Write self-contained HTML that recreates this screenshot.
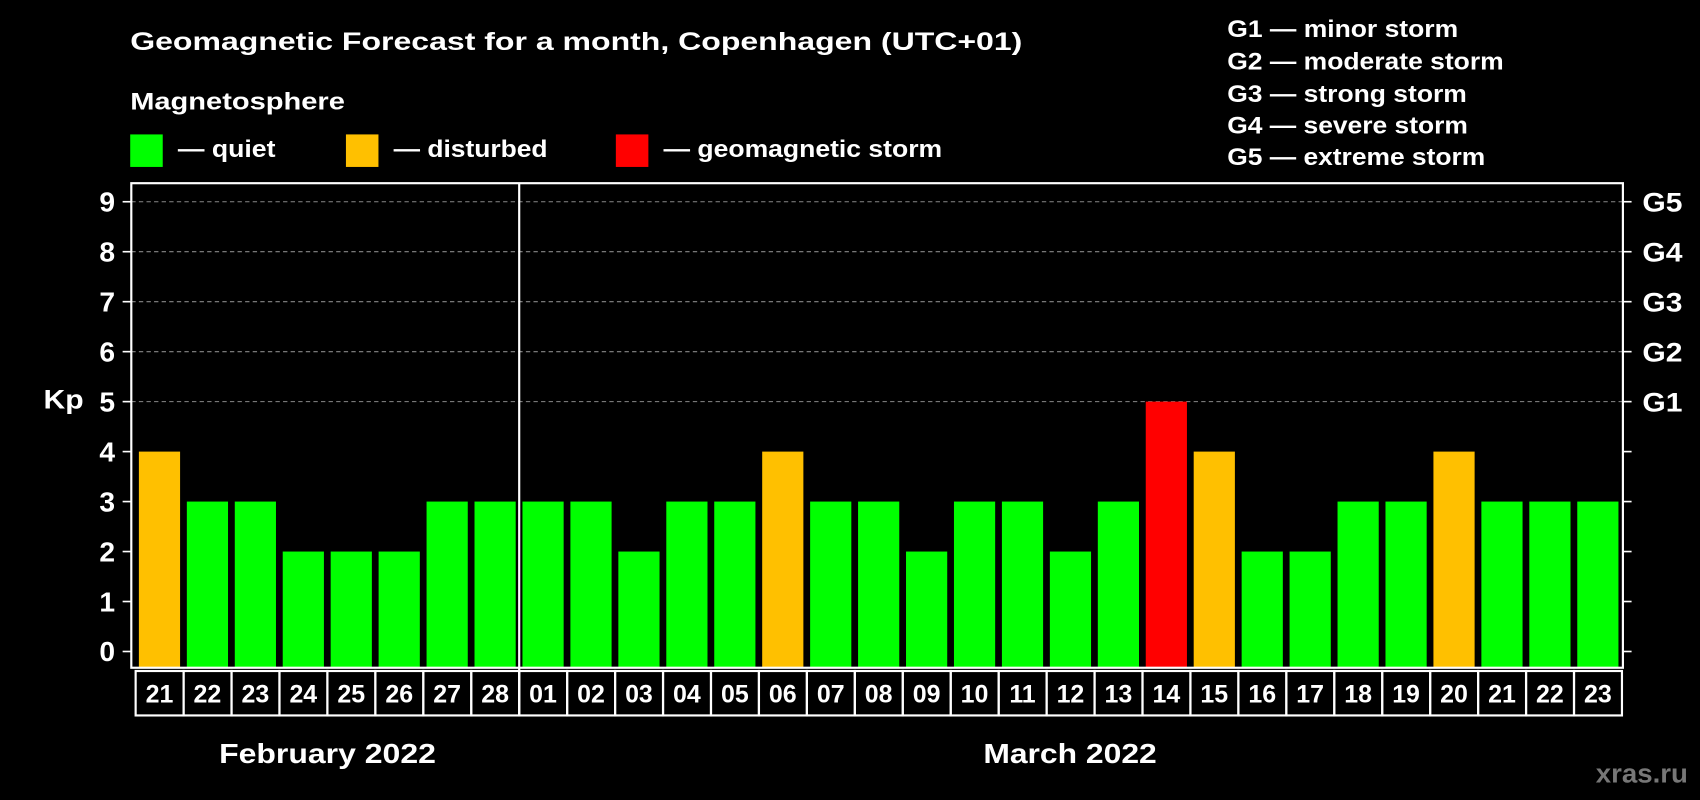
<!DOCTYPE html>
<html><head><meta charset="utf-8"><style>
html,body{margin:0;padding:0;background:#000;}
svg{display:block;font-family:"Liberation Sans",Arial,sans-serif;font-weight:bold;}
</style></head><body>
<svg id="chart" width="1700" height="800" viewBox="0 0 1568 738" xmlns="http://www.w3.org/2000/svg">
<rect width="1568" height="738" fill="#000"/>
<text x="120" y="46" fill="#fff" font-size="23" textLength="823" lengthAdjust="spacingAndGlyphs">Geomagnetic Forecast for a month, Copenhagen (UTC+01)</text>
<text x="120" y="101" fill="#fff" font-size="22" textLength="198" lengthAdjust="spacingAndGlyphs">Magnetosphere</text>
<rect x="120" y="124" width="30" height="30" fill="#00ff00"/>
<text x="164" y="145" fill="#fff" font-size="22" textLength="90" lengthAdjust="spacingAndGlyphs">— quiet</text>
<rect x="319" y="124" width="30" height="30" fill="#ffc000"/>
<text x="363" y="145" fill="#fff" font-size="22" textLength="142" lengthAdjust="spacingAndGlyphs">— disturbed</text>
<rect x="568" y="124" width="30" height="30" fill="#ff0000"/>
<text x="612" y="145" fill="#fff" font-size="22" textLength="257" lengthAdjust="spacingAndGlyphs">— geomagnetic storm</text>
<g fill="#fff" font-size="22" lengthAdjust="spacingAndGlyphs">
<text x="1132" y="34" textLength="213" lengthAdjust="spacingAndGlyphs">G1 — minor storm</text>
<text x="1132" y="64" textLength="255" lengthAdjust="spacingAndGlyphs">G2 — moderate storm</text>
<text x="1132" y="94" textLength="221" lengthAdjust="spacingAndGlyphs">G3 — strong storm</text>
<text x="1132" y="123" textLength="222" lengthAdjust="spacingAndGlyphs">G4 — severe storm</text>
<text x="1132" y="152" textLength="238" lengthAdjust="spacingAndGlyphs">G5 — extreme storm</text>
</g>
<text x="40" y="377" fill="#fff" font-size="25" textLength="37" lengthAdjust="spacingAndGlyphs">Kp</text>
<g id="grid"></g><g id="bars"></g><g id="axes"></g>
<text x="202" y="704" fill="#fff" font-size="26" textLength="200" lengthAdjust="spacingAndGlyphs">February 2022</text>
<text x="907" y="704" fill="#fff" font-size="26" textLength="160" lengthAdjust="spacingAndGlyphs">March 2022</text>
<text x="1472" y="722" fill="#777" font-size="25" textLength="85" lengthAdjust="spacingAndGlyphs">xras.ru</text>
</svg>
<script>
const days = ["21","22","23","24","25","26","27","28","01","02","03","04","05","06","07","08","09","10","11","12","13","14","15","16","17","18","19","20","21","22","23"];
const kpValues = [4,3,3,2,2,2,3,3,3,3,2,3,3,4,3,3,2,3,3,2,3,5,4,2,2,3,3,4,3,3,3];
const yTicks = [0,1,2,3,4,5,6,7,8,9];
const gLabels = ["G1","G2","G3","G4","G5"];
const NS="http://www.w3.org/2000/svg";
const L=121,R=1497,T=169,B=616,X0=128,P=44.23,BW=38;
const y=v=>601-v*46.1;
const x=i=>X0+i*P;
function mk(t,a,p){const e=document.createElementNS(NS,t);for(const k in a)e.setAttribute(k,a[k]);p.appendChild(e);return e;}
const grid=document.getElementById('grid'),bars=document.getElementById('bars'),axes=document.getElementById('axes');
yTicks.forEach(v=>{
  if(v>=5){const g=mk('line',{x1:L,x2:R,y1:y(v),y2:y(v),stroke:'#888','stroke-dasharray':'4,3','stroke-width':1},grid);
  
  }
  mk('line',{x1:L-8,x2:L,y1:y(v),y2:y(v),stroke:'#fff','stroke-width':1.5},axes);
  mk('line',{x1:R,x2:R+8,y1:y(v),y2:y(v),stroke:'#fff','stroke-width':1.5},axes);
  const t=mk('text',{x:106,y:y(v)+9,fill:'#fff','font-size':26,'text-anchor':'end'},axes);
  
  
  t.textContent=v;
});
gLabels.forEach((g,i)=>{
  const t=mk('text',{x:1515,y:y(i+5)+9,fill:'#fff','font-size':25,textLength:37,lengthAdjust:'spacingAndGlyphs'},axes);
  
  
  t.textContent=g;
});
kpValues.forEach((v,i)=>{
  const c=v>=5?'#ff0000':(v>=4?'#ffc000':'#00ff00');
  const r=mk('rect',{x:x(i),y:y(v),width:BW,height:B-y(v),fill:c},bars);
  
  
  mk('rect',{x:x(i)-3,y:619,width:P,height:41,fill:'none',stroke:'#fff','stroke-width':2},axes);
  const t=mk('text',{x:x(i)+BW/2,y:648,fill:'#fff','font-size':23,'text-anchor':'middle'},axes);
  
  
  t.textContent=days[i];
});
const f=mk('rect',{x:L,y:T,width:R-L,height:B-T,fill:'none',stroke:'#fff','stroke-width':2},axes);


const sx=x(8)-3;
const s=mk('line',{x1:sx,x2:sx,y1:T,y2:660,stroke:'#fff','stroke-width':2},axes);


</script>
</body></html>
